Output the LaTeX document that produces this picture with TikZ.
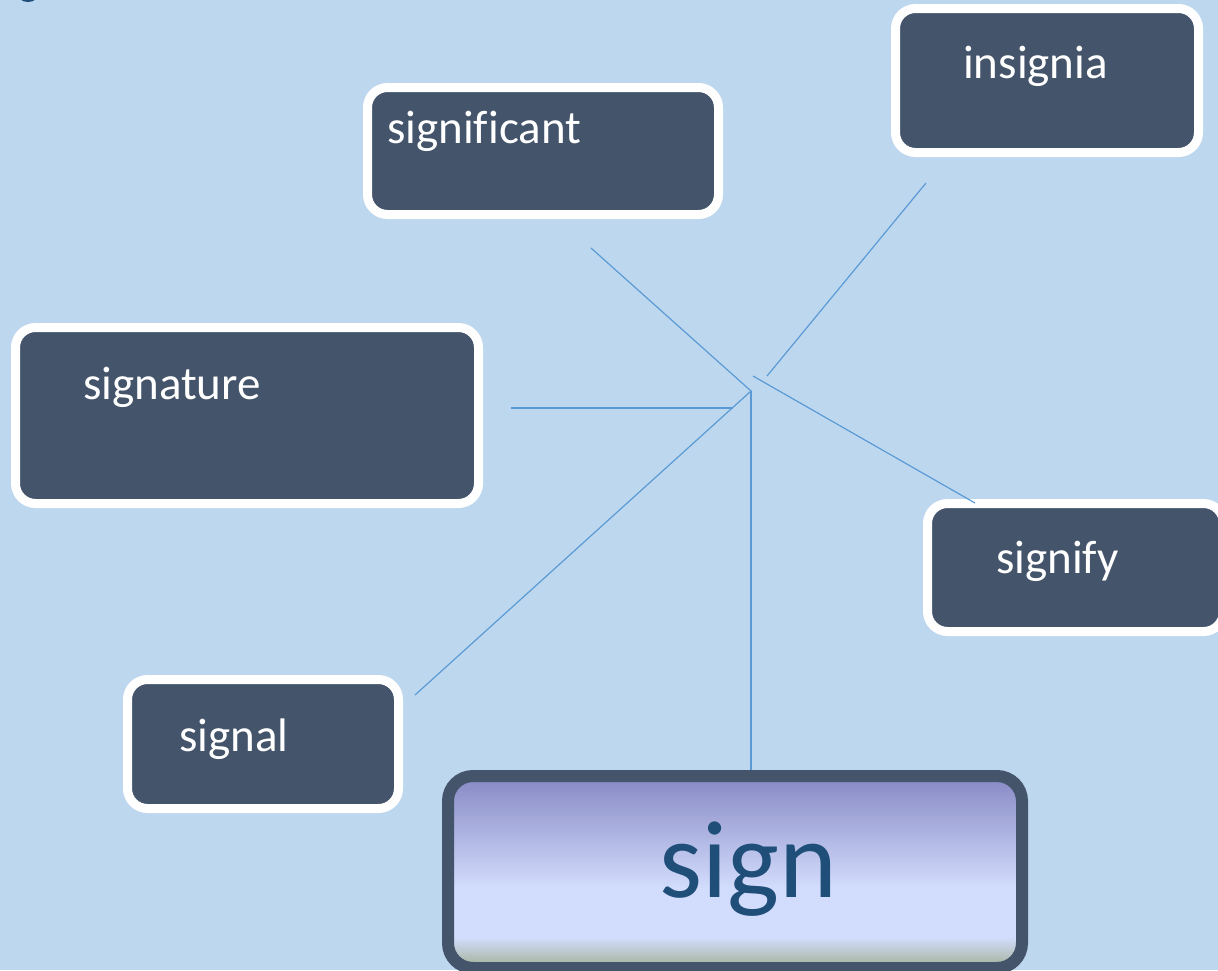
\documentclass[tikz,border=0pt]{standalone}
\usepackage{fontspec}
\setmainfont{Carlito}[Ligatures=NoCommon]
\usepackage{tikz}
\usetikzlibrary{calc}
\definecolor{bg}{HTML}{BDD7EE}
\definecolor{slate}{HTML}{44546A}
\definecolor{linkblue}{HTML}{5B9BD5}
\definecolor{ink}{HTML}{1F4E79}
\definecolor{stop}{HTML}{8789C4}
\definecolor{slight}{HTML}{D2DCFC}
\definecolor{sbot}{HTML}{A9B7A6}
\pgfdeclareverticalshading{signfill}{100bp}{color(0bp)=(sbot); color(26.3bp)=(sbot); color(32.9bp)=(slight); color(45.9bp)=(slight); color(75bp)=(stop); color(100bp)=(stop)}
\begin{document}
\begin{tikzpicture}[x=1pt,y=-1pt,
    box/.style={draw=white, line width=9pt, fill=slate, rounded corners=20pt, inner sep=0pt},
    word/.style={text=white, font=\fontsize{47}{56}\selectfont, anchor=base west, inner sep=0pt},
    link/.style={draw=linkblue, line width=1.2pt}]
\useasboundingbox (0,0) rectangle (1218,970);
\fill[bg] (0,0) rectangle (1218,970);
\fill[ink] (28,-7) ellipse [x radius=11pt, y radius=9pt];

\node[box, minimum width=351pt, minimum height=127pt] (significant) at (543,151) {};
\node[box, minimum width=303pt, minimum height=144pt] (insignia) at (1047,80.5) {};
\node[box, minimum width=463pt, minimum height=176pt] (signature) at (247,415.5) {};
\node[box, minimum width=296pt, minimum height=128pt] (signify) at (1075.5,567.5) {};
\node[box, minimum width=271pt, minimum height=129pt] (signal) at (263,744) {};
\node[box, draw=slate, line width=12pt, shade, shading=signfill, rounded corners=25pt,
      minimum width=574pt, minimum height=192pt] (sign) at (735,872) {};

\node[word] (significant-w) at (387,143) {significant};
\node[word] (insignia-w) at (963,78) {insignia};
\node[word] (signature-w) at (83,399) {signature};
\node[word] (signify-w) at (996,573) {signify};
\node[word] (signal-w) at (179,751) {signal};
\node[text=ink, font=\fontsize{110}{120}\selectfont, anchor=base, inner sep=0pt] (sign-w) at (748,897) {sign};

\coordinate (V) at (751,391);
\coordinate (p-significant) at (591,248);
\coordinate (p-signal) at (415,695);
\coordinate (p-signature) at (511,408);
\coordinate (q-signature) at (733,408);
\coordinate (p-insignia) at (926,183);
\coordinate (q-insignia) at (767,376);
\coordinate (p-signify) at (975,503);
\coordinate (q-signify) at (753,376);
\draw[link] (p-significant) -- (V) -- (p-signal);
\draw[link] (V) -- (V |- sign.north);
\draw[link] (p-signature) -- (q-signature);
\draw[link] (p-insignia) -- (q-insignia);
\draw[link] (q-signify) -- (p-signify);
\end{tikzpicture}
\end{document}
